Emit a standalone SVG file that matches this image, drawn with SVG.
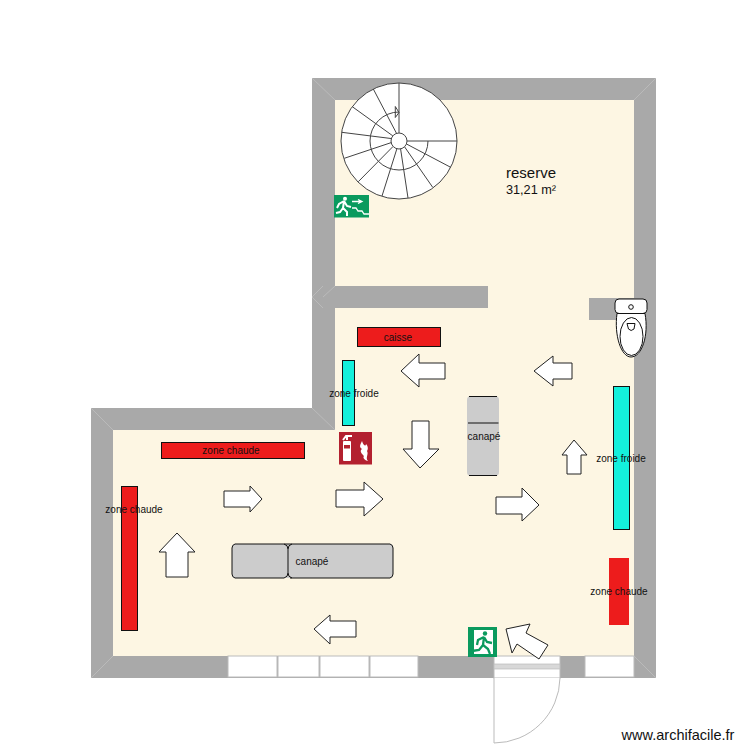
<svg xmlns="http://www.w3.org/2000/svg" width="750" height="750" viewBox="0 0 750 750">
<style>
text{font-family:"Liberation Sans",Arial,sans-serif;fill:#111;text-anchor:middle}
.l{font-size:10px}
.a{fill:#fff;stroke:#222;stroke-width:1}
.b{stroke:#111;stroke-width:1}
.sofa{fill:#ccc}
.sl{fill:none;stroke:#111;stroke-width:1}
.st{fill:none;stroke:#444;stroke-width:1}
.w{fill:#fff;stroke:#bbb;stroke-width:1}
.m{stroke:#c2c2c2;stroke-width:.7}
.g{fill:#0a9a5e}
</style>
<rect width="750" height="750" fill="#fff"/>
<g id="room">
<path d="M312 78H656V678H91V408H312Z" fill="#a9a9a9"/>
<path d="M335 100H634V656H113V430H335Z" fill="#fdf6e3"/>
<rect x="335" y="286" width="153" height="22" fill="#a9a9a9"/>
<rect x="312" y="286" width="23" height="22" fill="#a9a9a9"/>
<rect x="589" y="298" width="45" height="22" fill="#a9a9a9"/>
<path class="m" d="M312 78L335 100M656 78L634 100M656 678L634 656M91 678L113 656M91 408L113 430M312 408L335 430M312 297L323 286M323 308L312 297M335 286L323 297"/>
</g>
<g id="windows">
<rect class="w" x="228" y="656" width="49" height="21"/>
<rect class="w" x="278" y="656" width="41" height="21"/>
<rect class="w" x="320" y="656" width="49" height="21"/>
<rect class="w" x="370" y="656" width="48" height="21"/>
<rect class="w" x="585" y="656" width="49" height="21"/>
</g>
<g id="door">
<rect x="494" y="656" width="66" height="22" fill="#fff" stroke="#bbb"/>
<rect x="494" y="664" width="66" height="5" fill="#d8d8d8" stroke="#bbb" stroke-width=".7"/>
<path d="M494 678V743A66 66 0 0 0 560 678" fill="#fff" stroke="#bbb" stroke-width="1"/>
</g>
<g id="stairs">
<circle cx="399" cy="141" r="58" fill="#fff" stroke="#444" stroke-width="1"/>
<path class="st" d="M399 133V83M407 141H457M406.500 144L450.700 167.300M404.700 147L432.700 187.300M400.600 149L408 198M396.800 149L382 196M393 146.500L358.300 181.700M391.500 142.500L344.300 158.300M391 138.500L341.700 132.300M393 136L352.300 106.700M396.500 133.300L373.300 89"/>
<path class="st" d="M399 112A29 29 0 1 0 428 141"/>
<path class="st" d="M395.300 106.500L399 112.500L395.300 117.500Z" fill="#fff"/>
<circle cx="399" cy="141" r="8" fill="#fff" stroke="#444" stroke-width="1"/>
</g>
<g id="exit-top">
<rect class="g" x="334" y="195" width="35" height="22.500"/>
<circle cx="345" cy="198.800" r="2" fill="#fff"/>
<path d="M344 201L339 204L337 208M344 201L347 206L351 207M344 201L343 208L347 212L347 216M343 208L340 212L336 213" fill="none" stroke="#fff" stroke-width="2"/>
<path d="M352 201.500H361M358 199.500L362 201.500L358 203.500M352 208H356L358 211H362L364 214H369" fill="none" stroke="#fff" stroke-width="1.300"/>
</g>
<g id="exit-bottom">
<rect class="g" x="468" y="627" width="29" height="30"/>
<rect x="474" y="630" width="19" height="24" fill="#fff"/>
<circle cx="485" cy="633.500" r="2.200" class="g"/>
<path d="M484 637L478 640L477 645M484 637L487 642L492 643M484 637L483 645L488 649L490 654M483 645L479 650L472 651" fill="none" stroke="#0a9a5e" stroke-width="2.300"/>
</g>
<g id="extinguisher">
<rect x="339" y="432" width="33" height="32.500" fill="#b3202f"/>
<rect x="343" y="441" width="8" height="20" rx="1" fill="#fff"/>
<path d="M343 440L346 436L352 436M347 436V440" fill="none" stroke="#fff" stroke-width="2"/>
<rect x="344" y="445" width="6" height="3.500" fill="#b3202f"/>
<path d="M362 441C360 445 359 447 362 449C359 451 362 454 364 456C362 458 366 461 368 461C365 458 369 454 367 451C369 448 367 445 366 444C366 446 364 447 362 441Z" fill="#fff"/>
</g>
<g id="toilet">
<rect x="615" y="299" width="32" height="14.500" rx="4" fill="#fff" stroke="#111"/>
<circle cx="631" cy="307" r="2.300" fill="#fff" stroke="#111"/>
<path d="M617 313.500C614 335 621 357 631 357C642 357 649 335 645 313.500Z" fill="#fff" stroke="#111"/>
<ellipse cx="631.500" cy="336.500" rx="11.500" ry="19" fill="#fff" stroke="#111"/>
<path d="M627 323.500H635L634 329Q631 332 628.500 329Z" fill="#fff" stroke="#111"/>
</g>
<g id="zone-caisse"><rect class="b" x="357.500" y="327.500" width="83" height="19" fill="#ed1c1c"/><text class="l" x="398" y="341">caisse</text></g>
<g id="zone-froide-1"><rect class="b" x="342.500" y="360.500" width="12" height="65" fill="#14f0dc"/><text class="l" x="354" y="397">zone froide</text></g>
<g id="zone-froide-2"><rect class="b" x="613.500" y="386.500" width="16" height="143" fill="#14f0dc"/><text class="l" x="621" y="462">zone froide</text></g>
<g id="zone-chaude-1"><rect class="b" x="161.500" y="442.500" width="143" height="16" fill="#ed1c1c"/><text class="l" x="231" y="454">zone chaude</text></g>
<g id="zone-chaude-2"><rect class="b" x="121.500" y="486.500" width="16" height="144" fill="#ed1c1c"/><text class="l" x="134" y="513">zone chaude</text></g>
<g id="zone-chaude-3"><rect x="609" y="558" width="20" height="67" fill="#ed1c1c"/><text class="l" x="619" y="595">zone chaude</text></g>
<g id="sofa-1">
<rect class="sofa" x="232" y="544" width="161" height="34" rx="3"/>
<path class="sl" d="M235 544H390M235 578H284M290 578H390M284 544Q288 545 288 549V573Q288 577 284 578M288 549Q288 545 292 544M288 573Q288 577 292 578"/>
<path class="sl" stroke-width="1.600" d="M235 544Q232 545 232 548V574Q232 577 235 578M390 544Q393 545 393 548V574Q393 577 390 578"/>
<text class="l" x="312" y="565">canapé</text>
</g>
<g id="sofa-2">
<rect class="sofa" x="467" y="396" width="32" height="80" rx="4"/>
<path class="sl" d="M469 396.500H497M468 423H498.500M469 475.500H497"/>
<text class="l" x="484" y="440">canapé</text>
</g>
<g id="arrows">
<path class="a" d="M401 371L419 354V363H445V379H419V387Z"/>
<path class="a" d="M412 421H429V449H439L420 468L403 449H412Z"/>
<path class="a" d="M534 371L553 356V363H572V379H553V386Z"/>
<path class="a" d="M574 440L587 455H581V474H567V455H562Z"/>
<path class="a" d="M539 505L522 488V497H496V514H522V521Z"/>
<path class="a" d="M383 499L364 482V490H336V507H364V516Z"/>
<path class="a" d="M262 499L250 486V491H224V507H250V512Z"/>
<path class="a" d="M177 533L195 552H188V577H166V552H159Z"/>
<path class="a" d="M314 629L330 615V621H356V637H330V644Z"/>
<path class="a" d="M506 629L530 624L526 633L548 645L539 659L517 644L512 653Z"/>
</g>
<text x="531" y="178" font-size="15">reserve</text>
<text x="531" y="194" font-size="12.700">31,21 m²</text>
<text x="678" y="740" font-size="14.500">www.archifacile.fr</text>
</svg>
